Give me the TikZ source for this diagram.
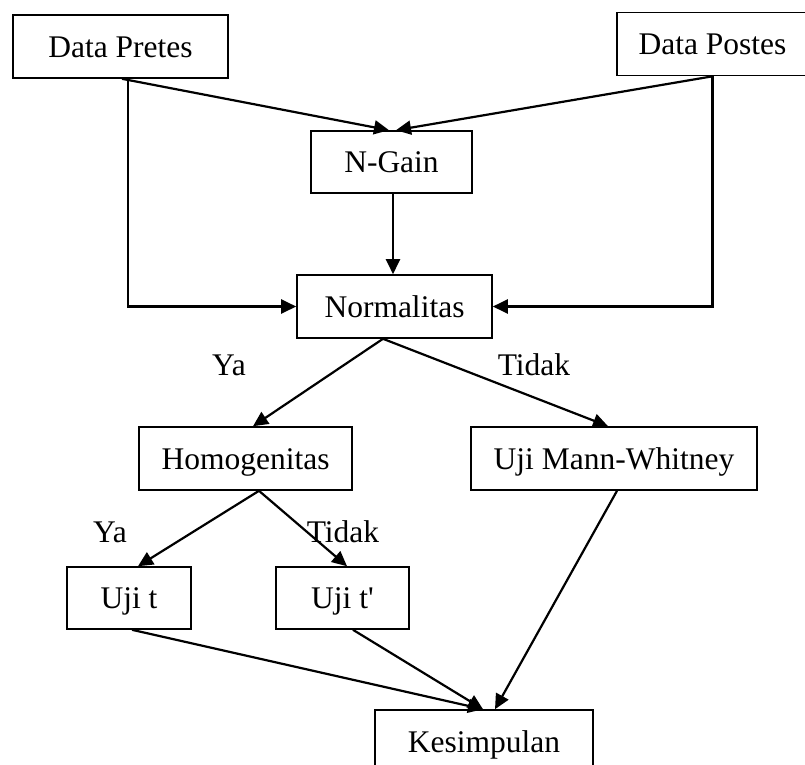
\documentclass[tikz,border=0pt]{standalone}
\usepackage{fontspec}
\setmainfont{Liberation Serif}
\usetikzlibrary{arrows.meta}
\begin{document}
\begin{tikzpicture}[x=1pt,y=-1pt,
  box/.style={draw,line width=1.6pt,inner sep=0pt,minimum height=63pt,
    font=\fontsize{31.5}{36}\selectfont,text height=21pt,text depth=0pt},
  lbl/.style={inner sep=0pt,font=\fontsize{31.5}{36}\selectfont,text height=21pt,text depth=0pt},
  conn/.style={line width=2.2pt,-{Triangle[length=15pt,width=14pt]}},
  plain/.style={line width=1.5pt}]
\useasboundingbox (0,0) rectangle (805,764);
\node[box,minimum width=215pt] (pre) at (120.5,46.5) {Data Pretes};
\node[box,minimum width=191pt] (post) at (712.5,44) {Data Postes};
\node[box,minimum width=161pt,minimum height=62pt] (ngain) at (391.5,162) {N-Gain};
\node[box,minimum width=195pt] (norm) at (394.5,306.5) {Normalitas};
\node[box,minimum width=213pt] (hom) at (245.5,458.5) {Homogenitas};
\node[box,minimum width=286pt] (mw) at (614,458.5) {Uji Mann-Whitney};
\node[box,minimum width=124pt,minimum height=62pt] (ujit) at (129,598) {Uji t};
\node[box,minimum width=133pt,minimum height=62pt] (ujitp) at (342.5,598) {Uji t\textquotesingle};
\node[box,minimum width=218pt] (kes) at (484,741.5) {Kesimpulan};
\node[lbl] (ya1) at (229,365) {Ya};
\node[lbl] (td1) at (534,365) {Tidak};
\node[lbl] (ya2) at (110,532) {Ya};
\node[lbl] (td2) at (343,532) {Tidak};
\draw[conn] ([xshift=1.5pt]pre.south) -- ([xshift=-2.5pt]ngain.north);
\draw[conn] (post.south) -- ([xshift=4.5pt]ngain.north);
\draw[conn] ([xshift=1.5pt]ngain.south) -- ([xshift=-1.5pt]norm.north);
\draw[conn] ([xshift=7.5pt]pre.south) |- (norm.west);
\draw[conn] (post.south) |- (norm.east);
\draw[conn] ([xshift=-11.5pt]norm.south) -- ([xshift=7.5pt]hom.north);
\draw[conn] ([xshift=-11.5pt]norm.south) -- ([xshift=-6pt]mw.north);
\draw[conn] ([xshift=13.5pt]hom.south) -- ([xshift=9pt]ujit.north);
\draw[conn] ([xshift=13.5pt]hom.south) -- ([xshift=4.5pt]ujitp.north);
\draw[conn] ([xshift=3pt]ujit.south) -- ([xshift=-1pt]kes.north);
\draw[conn] ([xshift=10.5pt]ujitp.south) -- ([xshift=-1pt]kes.north);
\draw[conn] ([xshift=3pt]mw.south) -- ([xshift=11pt]kes.north);
\end{tikzpicture}
\end{document}
